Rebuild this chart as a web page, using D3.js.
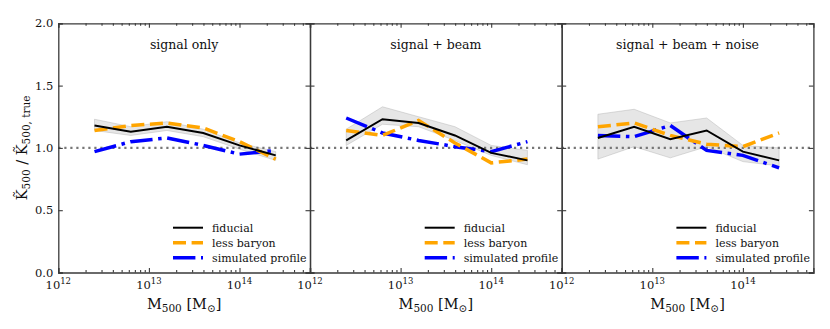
<!DOCTYPE html>
<html>
<head>
<meta charset="utf-8">
<script src="https://cdn.jsdelivr.net/npm/d3@7"></script>
<style>
  body { margin: 0; background: #fff; }
  svg, svg text { font-family: "DejaVu Serif", "Liberation Serif", "Noto Serif", serif; }
</style>
</head>
<body>
<svg id="chart" width="830" height="329"></svg>
<script>
// mass bins (M500, Msun)
const massBins = [2.51e12, 6.31e12, 1.58e13, 3.98e13, 1.0e14, 2.51e14];
const panelTitles = ["signal only", "signal + beam", "signal + beam + noise"];
const seriesNames = ["fiducial", "less baryon", "simulated profile"];
const yTicks = [0.0, 0.5, 1.0, 1.5, 2.0];
const xMajor = [1e12, 1e13, 1e14];

// one row per panel
const fiducial = [
  [1.18, 1.13, 1.17, 1.12, 1.02, 0.94],
  [1.06, 1.23, 1.20, 1.10, 0.96, 0.90],
  [1.08, 1.17, 1.07, 1.14, 0.97, 0.90]
];
const fiducialLow = [
  [1.14, 1.10, 1.14, 1.09, 0.99, 0.90],
  [1.02, 1.19, 1.17, 1.06, 0.94, 0.865],
  [0.91, 1.01, 0.92, 1.01, 0.89, 0.855]
];
const fiducialHigh = [
  [1.23, 1.17, 1.21, 1.15, 1.04, 0.97],
  [1.15, 1.33, 1.25, 1.17, 1.02, 0.98],
  [1.27, 1.31, 1.20, 1.24, 1.02, 1.00]
];
const lessBaryon = [
  [1.14, 1.18, 1.20, 1.16, 1.05, 0.91],
  [1.14, 1.10, 1.22, 1.04, 0.88, 0.91],
  [1.17, 1.20, 1.10, 1.03, 1.01, 1.12]
];
const simulated = [
  [0.97, 1.05, 1.08, 1.02, 0.95, 0.98],
  [1.24, 1.12, 1.06, 1.01, 0.97, 1.05],
  [1.10, 1.09, 1.18, 0.98, 0.94, 0.84]
];

const FONT = '"DejaVu Serif", "Liberation Serif", "Noto Serif", serif';
const svg = d3.select("#chart").attr("font-family", FONT);
const margin = { top: 23.3, bottom: 56.5, left: 58.3 };
const panelW = 251.7;
const height = 329;

const y = d3.scaleLinear()
  .domain([0, 2])
  .range([height - margin.bottom, margin.top]);

const axisColor = "#3a3a3a";
const styles = [
  { color: "#000", width: 2, dash: null },
  { color: "orange", width: 3.5, dash: "13,5.6" },
  { color: "blue", width: 3.5, dash: "22.4,5.6,3.5,5.6" }
];

panelTitles.forEach((title, p) => {
  const x0 = margin.left + p * panelW;
  const x = d3.scaleLog()
    .domain([1e12, 6e14])
    .range([x0, x0 + panelW]);

  const g = svg.append("g");

  // scatter band
  const area = d3.area()
    .x((d, i) => x(massBins[i]))
    .y0(d => y(d[0]))
    .y1(d => y(d[1]));
  g.append("path")
    .datum(fiducialLow[p].map((v, i) => [v, fiducialHigh[p][i]]))
    .attr("d", area)
    .attr("fill", "#c8c8c8")
    .attr("fill-opacity", 0.45)
    .attr("stroke", "#aaa")
    .attr("stroke-opacity", 0.5)
    .attr("stroke-width", 0.8);

  // reference line at 1
  g.append("line")
    .attr("x1", x0).attr("x2", x0 + panelW)
    .attr("y1", y(1)).attr("y2", y(1))
    .attr("stroke", "#777")
    .attr("stroke-width", 2.2)
    .attr("stroke-dasharray", "2.2,3.8");

  const line = d3.line()
    .x((d, i) => x(massBins[i]))
    .y(d => y(d));

  [simulated[p], lessBaryon[p], fiducial[p]].forEach((vals, k) => {
    const s = styles[2 - k];
    g.append("path")
      .datum(vals)
      .attr("d", line)
      .attr("fill", "none")
      .attr("stroke", s.color)
      .attr("stroke-width", s.width)
      .attr("stroke-dasharray", s.dash);
  });

  // axes with inward ticks
  const minor = x.ticks().filter(t => !xMajor.includes(t) && t < 6e14);
  const bottom = g.append("g").attr("transform", `translate(0,${y(0)})`);
  bottom.call(d3.axisBottom(x).tickValues(xMajor).tickSize(-4.5).tickFormat(""));
  bottom.append("g").call(d3.axisBottom(x).tickValues(minor).tickSize(-2.5).tickFormat(""))
    .select(".domain").remove();
  const top = g.append("g").attr("transform", `translate(0,${y(2)})`);
  top.call(d3.axisTop(x).tickValues(xMajor).tickSize(-4.5).tickFormat(""));
  top.append("g").call(d3.axisTop(x).tickValues(minor).tickSize(-2.5).tickFormat(""))
    .select(".domain").remove();

  g.append("g").attr("transform", `translate(${x0},0)`)
    .call(d3.axisLeft(y).tickValues(yTicks).tickSize(-4.5)
      .tickFormat(p === 0 ? d3.format(".1f") : ""))
    .call(a => a.selectAll("text").attr("x", -5).attr("font-size", 11.5).attr("fill", "#111"));
  g.append("g").attr("transform", `translate(${x0 + panelW},0)`)
    .call(d3.axisRight(y).tickValues(yTicks).tickSize(-4.5).tickFormat(""));

  g.selectAll("g").attr("font-family", FONT);
  g.selectAll(".domain, .tick line")
    .attr("stroke", axisColor)
    .attr("stroke-width", 1.1);
  g.selectAll(".domain").attr("stroke-width", 1.3);

  // x tick labels 10^n
  xMajor.forEach(v => {
    const t = g.append("text")
      .attr("x", x(v))
      .attr("y", y(0) + 16)
      .attr("text-anchor", "middle")
      .attr("font-size", 11.5)
      .attr("fill", "#111");
    t.append("tspan").text("10");
    t.append("tspan").attr("dy", -5).attr("font-size", 8.5).text(Math.round(Math.log10(v)));
  });

  // x label
  const xl = g.append("text")
    .attr("x", x0 + panelW / 2)
    .attr("y", y(0) + 36)
    .attr("text-anchor", "middle")
    .attr("font-size", 14.5)
    .attr("fill", "#111");
  xl.append("tspan").text("M");
  xl.append("tspan").attr("dy", 3).attr("font-size", 10.5).text("500");
  xl.append("tspan").attr("dy", -3).text(" [M");
  xl.append("tspan").attr("dy", 3).attr("font-size", 10.5).text("⊙");
  xl.append("tspan").attr("dy", -3).text("]");

  // panel title
  g.append("text")
    .attr("x", x0 + panelW / 2)
    .attr("y", y(1.79))
    .attr("text-anchor", "middle")
    .attr("font-size", 12.5)
    .attr("fill", "#111")
    .text(title);

  // legend
  const lx = x0 + panelW - 137;
  seriesNames.forEach((name, k) => {
    const ly = 227.7 + k * 15;
    const s = styles[k];
    g.append("line")
      .attr("x1", lx).attr("x2", lx + 30)
      .attr("y1", ly).attr("y2", ly)
      .attr("stroke", s.color)
      .attr("stroke-width", s.width)
      .attr("stroke-dasharray", s.dash);
    g.append("text")
      .attr("x", lx + 39)
      .attr("y", ly + 4)
      .attr("font-size", 11)
      .attr("fill", "#111")
      .text(name);
  });
});

// y label
const yl = svg.append("text")
  .attr("transform", `translate(27,${y(1)}) rotate(-90)`)
  .attr("text-anchor", "middle")
  .attr("font-size", 14.5)
  .attr("fill", "#111");
yl.append("tspan").text("K\u0303");
yl.append("tspan").attr("dy", 3).attr("font-size", 10.5).text("500");
yl.append("tspan").attr("dy", -3).text(" / K\u0303");
yl.append("tspan").attr("dy", 3).attr("font-size", 10.5).text("500, true");
</script>
</body>
</html>
